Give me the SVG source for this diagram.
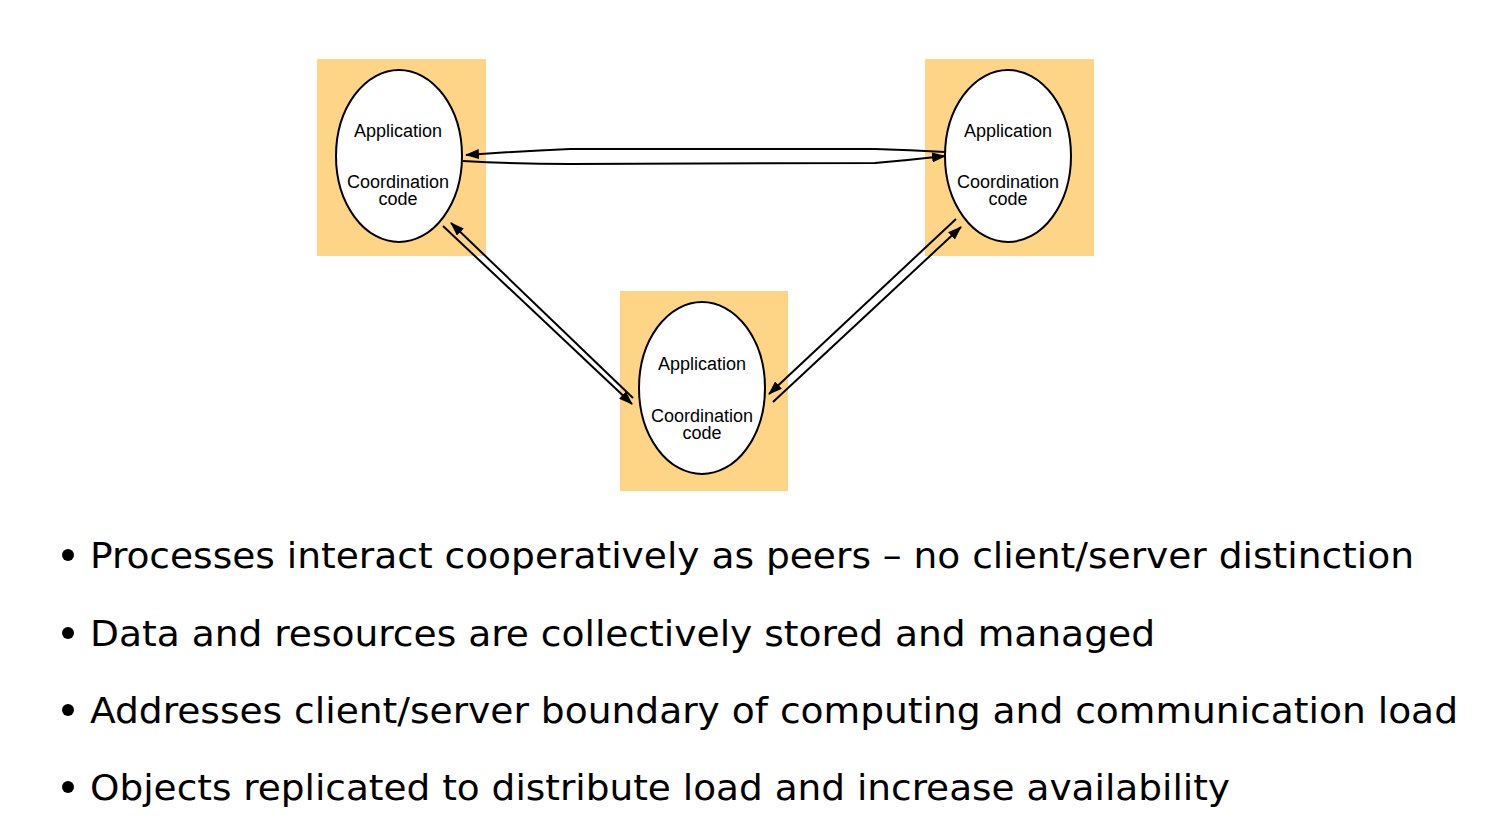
<svg xmlns="http://www.w3.org/2000/svg" width="1507" height="835" viewBox="0 0 1507 835">
<style>
.box{fill:#FED486;stroke:none}
.ell{fill:#fff;stroke:#000;stroke-width:2}
.lbl{font-family:"Liberation Sans",Arial,sans-serif;font-size:18px;fill:#000;text-anchor:middle}
.con{fill:none;stroke:#000;stroke-width:2;marker-end:url(#ah)}
.bul{font-family:"DejaVu Sans Condensed","DejaVu Sans",Verdana,sans-serif;font-size:36px;fill:#000}
</style>
<defs>
<marker id="ah" viewBox="0 0 14 10" refX="13" refY="5" markerWidth="14" markerHeight="10" markerUnits="userSpaceOnUse" orient="auto">
<path d="M0,0 L14,5 L0,10 z" fill="#000"/>
</marker>
</defs>
<rect width="1507" height="835" fill="#fff"/>
<g id="node1">
<rect class="box" x="317" y="59" width="169" height="197"/>
<ellipse class="ell" cx="399" cy="156" rx="63" ry="86"/>
<text class="lbl" x="398" y="137">Application</text>
<text class="lbl" x="398" y="188">Coordination</text>
<text class="lbl" x="398" y="205">code</text>
</g>
<g id="node2">
<rect class="box" x="925" y="59" width="169" height="197"/>
<ellipse class="ell" cx="1008" cy="156" rx="63" ry="86"/>
<text class="lbl" x="1008" y="137">Application</text>
<text class="lbl" x="1008" y="188">Coordination</text>
<text class="lbl" x="1008" y="205">code</text>
</g>
<g id="node3">
<rect class="box" x="620" y="291" width="168" height="200"/>
<ellipse class="ell" cx="702" cy="388" rx="63" ry="86"/>
<text class="lbl" x="702" y="370">Application</text>
<text class="lbl" x="702" y="422">Coordination</text>
<text class="lbl" x="702" y="439">code</text>
</g>
<g id="connectors">
<path class="con" d="M945,152 Q910,150 875,149 L570,149 Q520,151 466,155"/>
<path class="con" d="M463,161 Q520,164 570,164 L875,163 Q910,160 945,156"/>
<path class="con" d="M633,398 L451,223"/>
<path class="con" d="M443,226 L632,404"/>
<path class="con" d="M956,219 L769,394"/>
<path class="con" d="M773,402 L961,227"/>
</g>
<g id="bullets">
<circle cx="68" cy="555" r="6"/>
<text class="bul" x="90" y="568" textLength="1324" lengthAdjust="spacingAndGlyphs">Processes interact cooperatively as peers – no client/server distinction</text>
<circle cx="68" cy="633" r="6"/>
<text class="bul" x="90" y="646" textLength="1065" lengthAdjust="spacingAndGlyphs">Data and resources are collectively stored and managed</text>
<circle cx="68" cy="710" r="6"/>
<text class="bul" x="90" y="723" textLength="1368" lengthAdjust="spacingAndGlyphs">Addresses client/server boundary of computing and communication load</text>
<circle cx="68" cy="787" r="6"/>
<text class="bul" x="90" y="800" textLength="1140" lengthAdjust="spacingAndGlyphs">Objects replicated to distribute load and increase availability</text>
</g>
</svg>
